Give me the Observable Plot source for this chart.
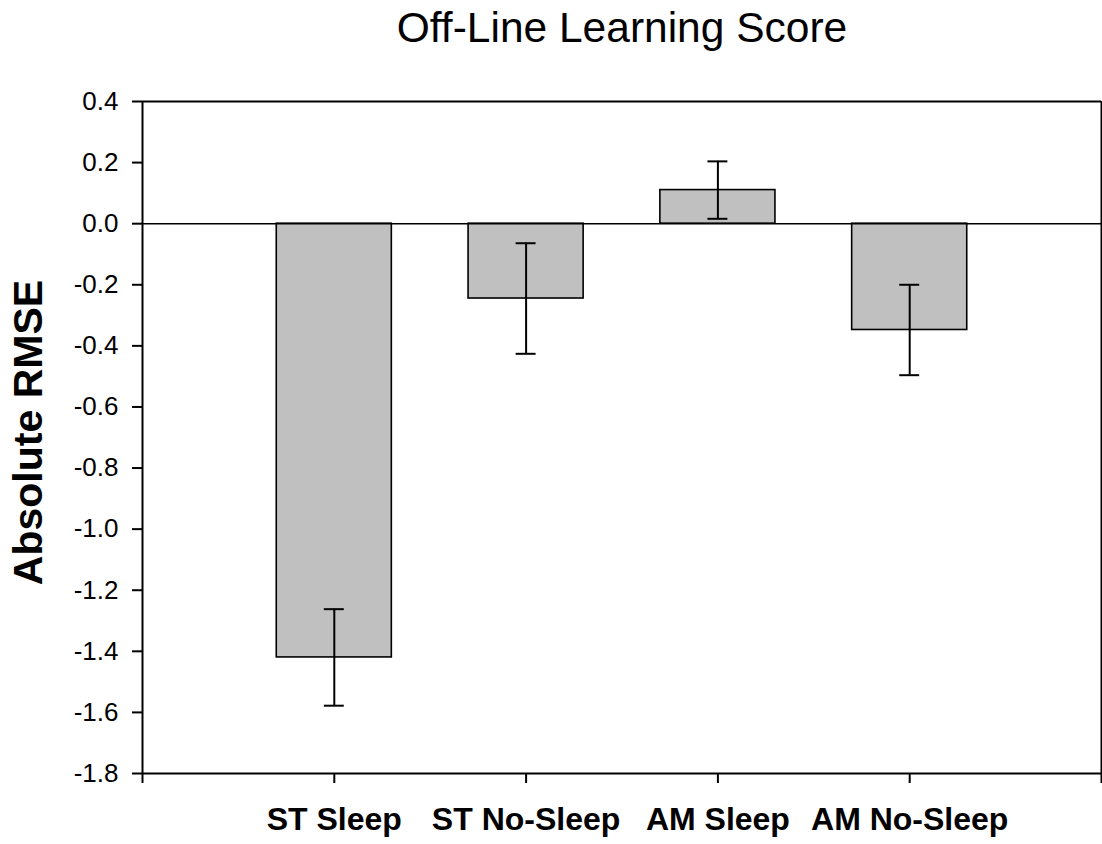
<!DOCTYPE html>
<html>
<head>
<meta charset="utf-8">
<script src="https://cdn.jsdelivr.net/npm/d3@7"></script>
<script src="https://cdn.jsdelivr.net/npm/@observablehq/plot@0.6"></script>
<style>
  html, body { margin: 0; padding: 0; background: #fff; }
  #chart svg { display: block; }
</style>
</head>
<body>
<div id="chart"></div>
<script>
const title = "Off-Line Learning Score";
const yLabel = "Absolute RMSE";
const categories = ["ST Sleep", "ST No-Sleep", "AM Sleep", "AM No-Sleep"];
const means = [-1.42, -0.245, 0.11, -0.348];
const errors = [0.158, 0.181, 0.094, 0.148];
const yTicks = [0.4, 0.2, 0.0, -0.2, -0.4, -0.6, -0.8, -1.0, -1.2, -1.4, -1.6, -1.8];

const slots = categories.length + 1;           // x runs from 0 to 5, bars at 1..4
const xTicks = d3.range(0, slots + 1);
const barHalf = 0.3;
const capHalf = 0.052;

const data = categories.map((c, i) => ({
  cat: c,
  pos: i + 1,
  mean: means[i],
  lo: means[i] - errors[i],
  hi: means[i] + errors[i]
}));

const yMin = d3.min(yTicks), yMax = d3.max(yTicks);
const fmt = d => (Math.abs(d) < 1e-9 ? 0 : d).toFixed(1);

const chart = Plot.plot({
  width: 1102,
  height: 844,
  marginLeft: 142,
  marginRight: 1,
  marginTop: 101,
  marginBottom: 71,
  style: { fontFamily: "'Liberation Sans', Arial, sans-serif", background: "#fff", color: "#000" },
  x: { type: "linear", domain: [0, slots] },
  y: { domain: [yMin, yMax] },
  marks: [
    Plot.rectY(data, {
      x1: d => d.pos - barHalf, x2: d => d.pos + barHalf,
      y1: 0, y2: "mean",
      fill: "#c0c0c0", stroke: "#000", strokeWidth: 1.6
    }),
    Plot.ruleY([0], { stroke: "#000", strokeWidth: 1.6 }),
    Plot.ruleY([yMax], { stroke: "#000", strokeWidth: 2 }),
    Plot.ruleY([yMin], { stroke: "#000", strokeWidth: 2 }),
    Plot.ruleX([0], { stroke: "#000", strokeWidth: 2 }),
    Plot.ruleX([slots], { stroke: "#000", strokeWidth: 2 }),
    Plot.ruleX(data, { x: "pos", y1: "lo", y2: "hi", stroke: "#000", strokeWidth: 2 }),
    Plot.ruleY(data, { y: "lo", x1: d => d.pos - capHalf, x2: d => d.pos + capHalf, stroke: "#000", strokeWidth: 2 }),
    Plot.ruleY(data, { y: "hi", x1: d => d.pos - capHalf, x2: d => d.pos + capHalf, stroke: "#000", strokeWidth: 2 }),
    Plot.axisY({
      ticks: yTicks, tickFormat: fmt, tickSize: 10, tickPadding: 14,
      fontSize: 26, label: null, strokeWidth: 2
    }),
    Plot.axisX({
      ticks: xTicks,
      tickFormat: v => (v >= 1 && v <= categories.length ? categories[v - 1] : ""),
      tickSize: 10, tickPadding: 24, fontSize: 32, fontWeight: "bold",
      label: null, strokeWidth: 2
    }),
    Plot.text([title], {
      frameAnchor: "top", text: d => d, dy: -73, fontSize: 42.5,
      lineAnchor: "middle", textAnchor: "middle", fill: "#000"
    }),
    Plot.text([yLabel], {
      frameAnchor: "left", text: d => d, rotate: -90, dx: -114, dy: -5,
      fontSize: 41, fontWeight: "bold", lineAnchor: "middle", textAnchor: "middle", fill: "#000"
    })
  ]
});

document.getElementById("chart").appendChild(chart);
</script>
</body>
</html>
